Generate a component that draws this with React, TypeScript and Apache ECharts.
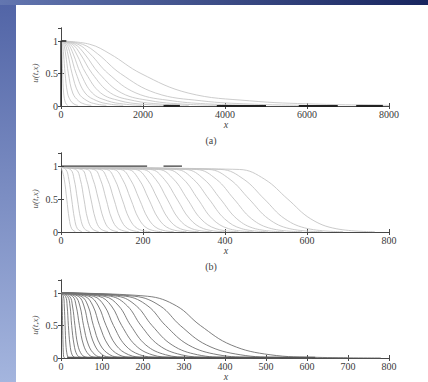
import React, { useEffect, useRef } from 'react';
import * as echarts from 'echarts';

// ---- panel (a): x positions where each profile reaches the levels below
const LEVELS_A = [1, 0.95, 0.8, 0.5, 0.2, 0.08, 0.03, 0.01];
const CURVES_A = [
  [0, 14, 25, 40, 64, 94, 127, 164],
  [0, 36, 62, 100, 159, 236, 318, 410],
  [0, 65, 112, 180, 286, 425, 572, 738],
  [0, 97, 167, 270, 429, 637, 859, 1107],
  [0, 133, 229, 370, 588, 873, 1177, 1517],
  [0, 173, 298, 480, 763, 1133, 1526, 1968],
  [0, 220, 378, 610, 970, 1440, 1940, 2501],
  [0, 274, 471, 760, 1208, 1794, 2417, 3116],
  [0, 335, 577, 930, 1479, 2195, 2957, 3813],
  [0, 414, 713, 1150, 1829, 2714, 3657, 4715],
  [0, 522, 899, 1450, 2306, 3422, 4611, 5945],
  [0, 700, 1200, 1950, 3100, 4600, 6200, 8000],
];
const A_BOTTOM_MARKS = [[2500, 2900], [3800, 5000], [5800, 6750], [7200, 7850]];
const A_CORNER_MARK = [[0, 0], [0, 1], [130, 1]];

// ---- panel (b)
const LEVELS_B = [0.98, 0.95, 0.8, 0.5, 0.2, 0.05, 0.005];
const CURVES_B = [
  [0, 2, 8, 14, 20, 26, 35],
  [0, 12, 19, 26, 33, 40, 51],
  [0, 23, 32, 40, 48, 57, 70],
  [0, 36, 47, 56, 65, 76, 92],
  [0, 50, 62, 73, 84, 96, 115],
  [0, 64, 78, 91, 104, 118, 139],
  [0, 80, 96, 110, 124, 140, 165],
  [0, 95, 113, 129, 145, 163, 191],
  [0, 111, 131, 149, 167, 187, 218],
  [0, 128, 150, 170, 190, 212, 246],
  [0, 145, 169, 191, 213, 237, 275],
  [0, 163, 190, 214, 238, 265, 306],
  [0, 181, 210, 236, 262, 291, 336],
  [0, 199, 231, 259, 287, 319, 367],
  [0, 218, 252, 283, 314, 348, 399],
  [0, 238, 275, 308, 341, 378, 433],
  [0, 259, 299, 334, 369, 409, 469],
  [0, 281, 323, 361, 399, 441, 505],
  [0, 304, 349, 389, 429, 474, 543],
  [0, 330, 379, 422, 465, 514, 588],
  [0, 360, 412, 459, 506, 558, 638],
  [0, 390, 446, 496, 546, 603, 688],
  [0, 435, 497, 553, 609, 671, 765],
];
const B_TOP_MARKS = [[0, 210], [250, 295]];

// ---- panel (c)
const LEVELS_C = [1, 0.95, 0.8, 0.5, 0.2, 0.05, 0.01, 0];
const CURVES_C = [
  [0, 2, 3, 4, 5, 6, 7, 10],
  [0, 6, 8, 10, 12, 15, 18, 24],
  [0, 11, 15, 18, 22, 27, 33, 43],
  [0, 16, 22, 26, 32, 39, 48, 62],
  [0, 21, 28, 34, 41, 51, 63, 82],
  [0, 28, 37, 45, 55, 68, 83, 108],
  [0, 34, 46, 55, 67, 83, 101, 132],
  [0, 42, 56, 67, 82, 101, 123, 161],
  [0, 49, 66, 79, 96, 119, 145, 190],
  [0, 58, 78, 94, 115, 141, 173, 226],
  [0, 68, 91, 110, 134, 165, 202, 264],
  [0, 79, 106, 128, 156, 192, 236, 307],
  [0, 92, 123, 148, 181, 222, 272, 355],
  [0, 105, 141, 170, 207, 255, 313, 408],
  [0, 121, 162, 195, 238, 293, 359, 468],
  [0, 138, 184, 222, 271, 333, 408, 533],
  [0, 158, 212, 255, 311, 383, 469, 612],
  [0, 180, 242, 291, 355, 437, 535, 698],
  [0, 211, 282, 340, 415, 510, 626, 780],
];
const C_BOTTOM_MARK = [[15, 0.008], [620, 0.008]];

// ---- axes
const X_MAX = [8000, 800, 800];
const X_INTERVAL = [2000, 200, 100];
const Y_LABELS = [0, 0.5, 1];
const Y_MAX = 1.2;
const PANEL_TAGS = ['(a)', '(b)'];

const GRIDS = [
  { left: 61, top: 28, width: 328, height: 78 },
  { left: 61, top: 153, width: 328, height: 79 },
  { left: 61, top: 280, width: 328, height: 78 },
];

const SERIF = 'Liberation Serif';
const AXIS_COLOR = '#474747';
const LABEL_COLOR = '#3a3a3a';

function curveSeries(curves: number[][], levels: number[], gi: number, color: string, width: number) {
  return curves.map((xs) => ({
    type: 'line',
    xAxisIndex: gi * 2,
    yAxisIndex: gi * 2,
    data: xs.map((x, i) => [x, levels[i]]),
    smooth: 0.4,
    showSymbol: false,
    symbol: 'none',
    silent: true,
    lineStyle: { color, width },
  }));
}

function markSeries(points: number[][], gi: number, color: string, width: number) {
  return {
    type: 'line',
    xAxisIndex: gi * 2,
    yAxisIndex: gi * 2,
    data: points,
    showSymbol: false,
    symbol: 'none',
    silent: true,
    lineStyle: { color, width },
    z: 3,
  };
}

export default function App() {
  const ref = useRef<HTMLDivElement>(null);
  useEffect(() => {
    document.body.style.margin = '0';
    const chart = echarts.init(ref.current!, undefined, { renderer: 'svg' });

    const xAxis: any[] = [];
    const yAxis: any[] = [];
    GRIDS.forEach((_, gi) => {
      const common = {
        gridIndex: gi,
        type: 'value',
        min: 0,
        max: X_MAX[gi],
        interval: X_INTERVAL[gi],
        splitLine: { show: false },
        axisLine: { show: true, lineStyle: { color: AXIS_COLOR, width: 1 } },
        axisTick: { show: true, inside: true, length: 3, lineStyle: { color: AXIS_COLOR } },
      };
      xAxis.push({
        ...common,
        position: 'bottom',
        axisLabel: {
          show: true,
          margin: 3,
          color: LABEL_COLOR,
          fontSize: 10,
          fontFamily: SERIF,
          formatter: (v: number) => String(v),
        },
      });
      xAxis.push({ ...common, position: 'top', axisLabel: { show: false } });
      const ycommon = {
        gridIndex: gi,
        type: 'value',
        min: 0,
        max: Y_MAX,
        interval: 0.5,
        splitLine: { show: false },
        axisLine: { show: true, lineStyle: { color: AXIS_COLOR, width: 1 } },
        axisTick: { show: true, inside: true, length: 3, lineStyle: { color: AXIS_COLOR } },
      };
      yAxis.push({
        ...ycommon,
        position: 'left',
        axisLabel: {
          show: true,
          margin: 3,
          showMaxLabel: false,
          color: LABEL_COLOR,
          fontSize: 10,
          fontFamily: SERIF,
          formatter: (v: number) => (Y_LABELS.includes(v) ? String(v) : ''),
        },
      });
      yAxis.push({ ...ycommon, position: 'right', axisLabel: { show: false } });
    });

    const series: any[] = [
      ...curveSeries(CURVES_A, LEVELS_A, 0, '#c6c6c6', 0.9),
      ...A_BOTTOM_MARKS.map((s) => markSeries([[s[0], 0], [s[1], 0]], 0, '#222', 2.2)),
      markSeries(A_CORNER_MARK, 0, '#222', 1.4),
      ...curveSeries(CURVES_B, LEVELS_B, 1, '#c4c4c4', 0.9),
      ...B_TOP_MARKS.map((s) => markSeries([[s[0], 1], [s[1], 1]], 1, '#3a3a3a', 1.4)),
      ...curveSeries(CURVES_C, LEVELS_C, 2, '#707070', 0.9),
      markSeries(C_BOTTOM_MARK, 2, '#555', 1.6),
    ];

    const textStyle = (text: string, italic = false, size = 10, color = '#444') => ({
      text,
      fill: color,
      fontFamily: SERIF,
      fontSize: size,
      fontStyle: italic ? 'italic' : 'normal',
      align: 'center',
      verticalAlign: 'middle',
    });

    const graphic: any[] = [
      {
        type: 'rect',
        z: -10,
        silent: true,
        shape: { x: 0, y: 0, width: 428, height: 382 },
        style: {
          fill: new echarts.graphic.LinearGradient(0, 0, 0, 1, [
            { offset: 0, color: '#5164a6' },
            { offset: 1, color: '#a4b5de' },
          ]),
        },
      },
      {
        type: 'rect',
        z: -9,
        silent: true,
        shape: { x: 0, y: 0, width: 428, height: 5 },
        style: {
          fill: new echarts.graphic.LinearGradient(0, 0, 1, 0, [
            { offset: 0, color: '#6376b0' },
            { offset: 1, color: '#18255f' },
          ]),
        },
      },
      {
        type: 'rect',
        z: -8,
        silent: true,
        shape: { x: 16, y: 5, width: 412, height: 377 },
        style: { fill: '#ffffff' },
      },
    ];
    GRIDS.forEach((g, gi) => {
      const bottom = g.top + g.height;
      graphic.push({ type: 'text', x: 226, y: bottom + 18, style: textStyle('x', true, 10) });
      graphic.push({
        type: 'text',
        x: 35,
        y: g.top + g.height * 0.58,
        rotation: Math.PI / 2,
        style: textStyle('u(t,x)', true, 9, '#555'),
      });
      if (PANEL_TAGS[gi]) {
        graphic.push({ type: 'text', x: 211, y: bottom + 34, style: textStyle(PANEL_TAGS[gi], false, 10) });
      }
    });

    chart.setOption({
      animation: false,
      backgroundColor: 'transparent',
      textStyle: { fontFamily: SERIF },
      grid: GRIDS.map((g) => ({ ...g, containLabel: false })),
      xAxis,
      yAxis,
      series,
      graphic,
    });
    return () => chart.dispose();
  }, []);
  return <div ref={ref} style={{ width: 428, height: 382 }} />;
}
